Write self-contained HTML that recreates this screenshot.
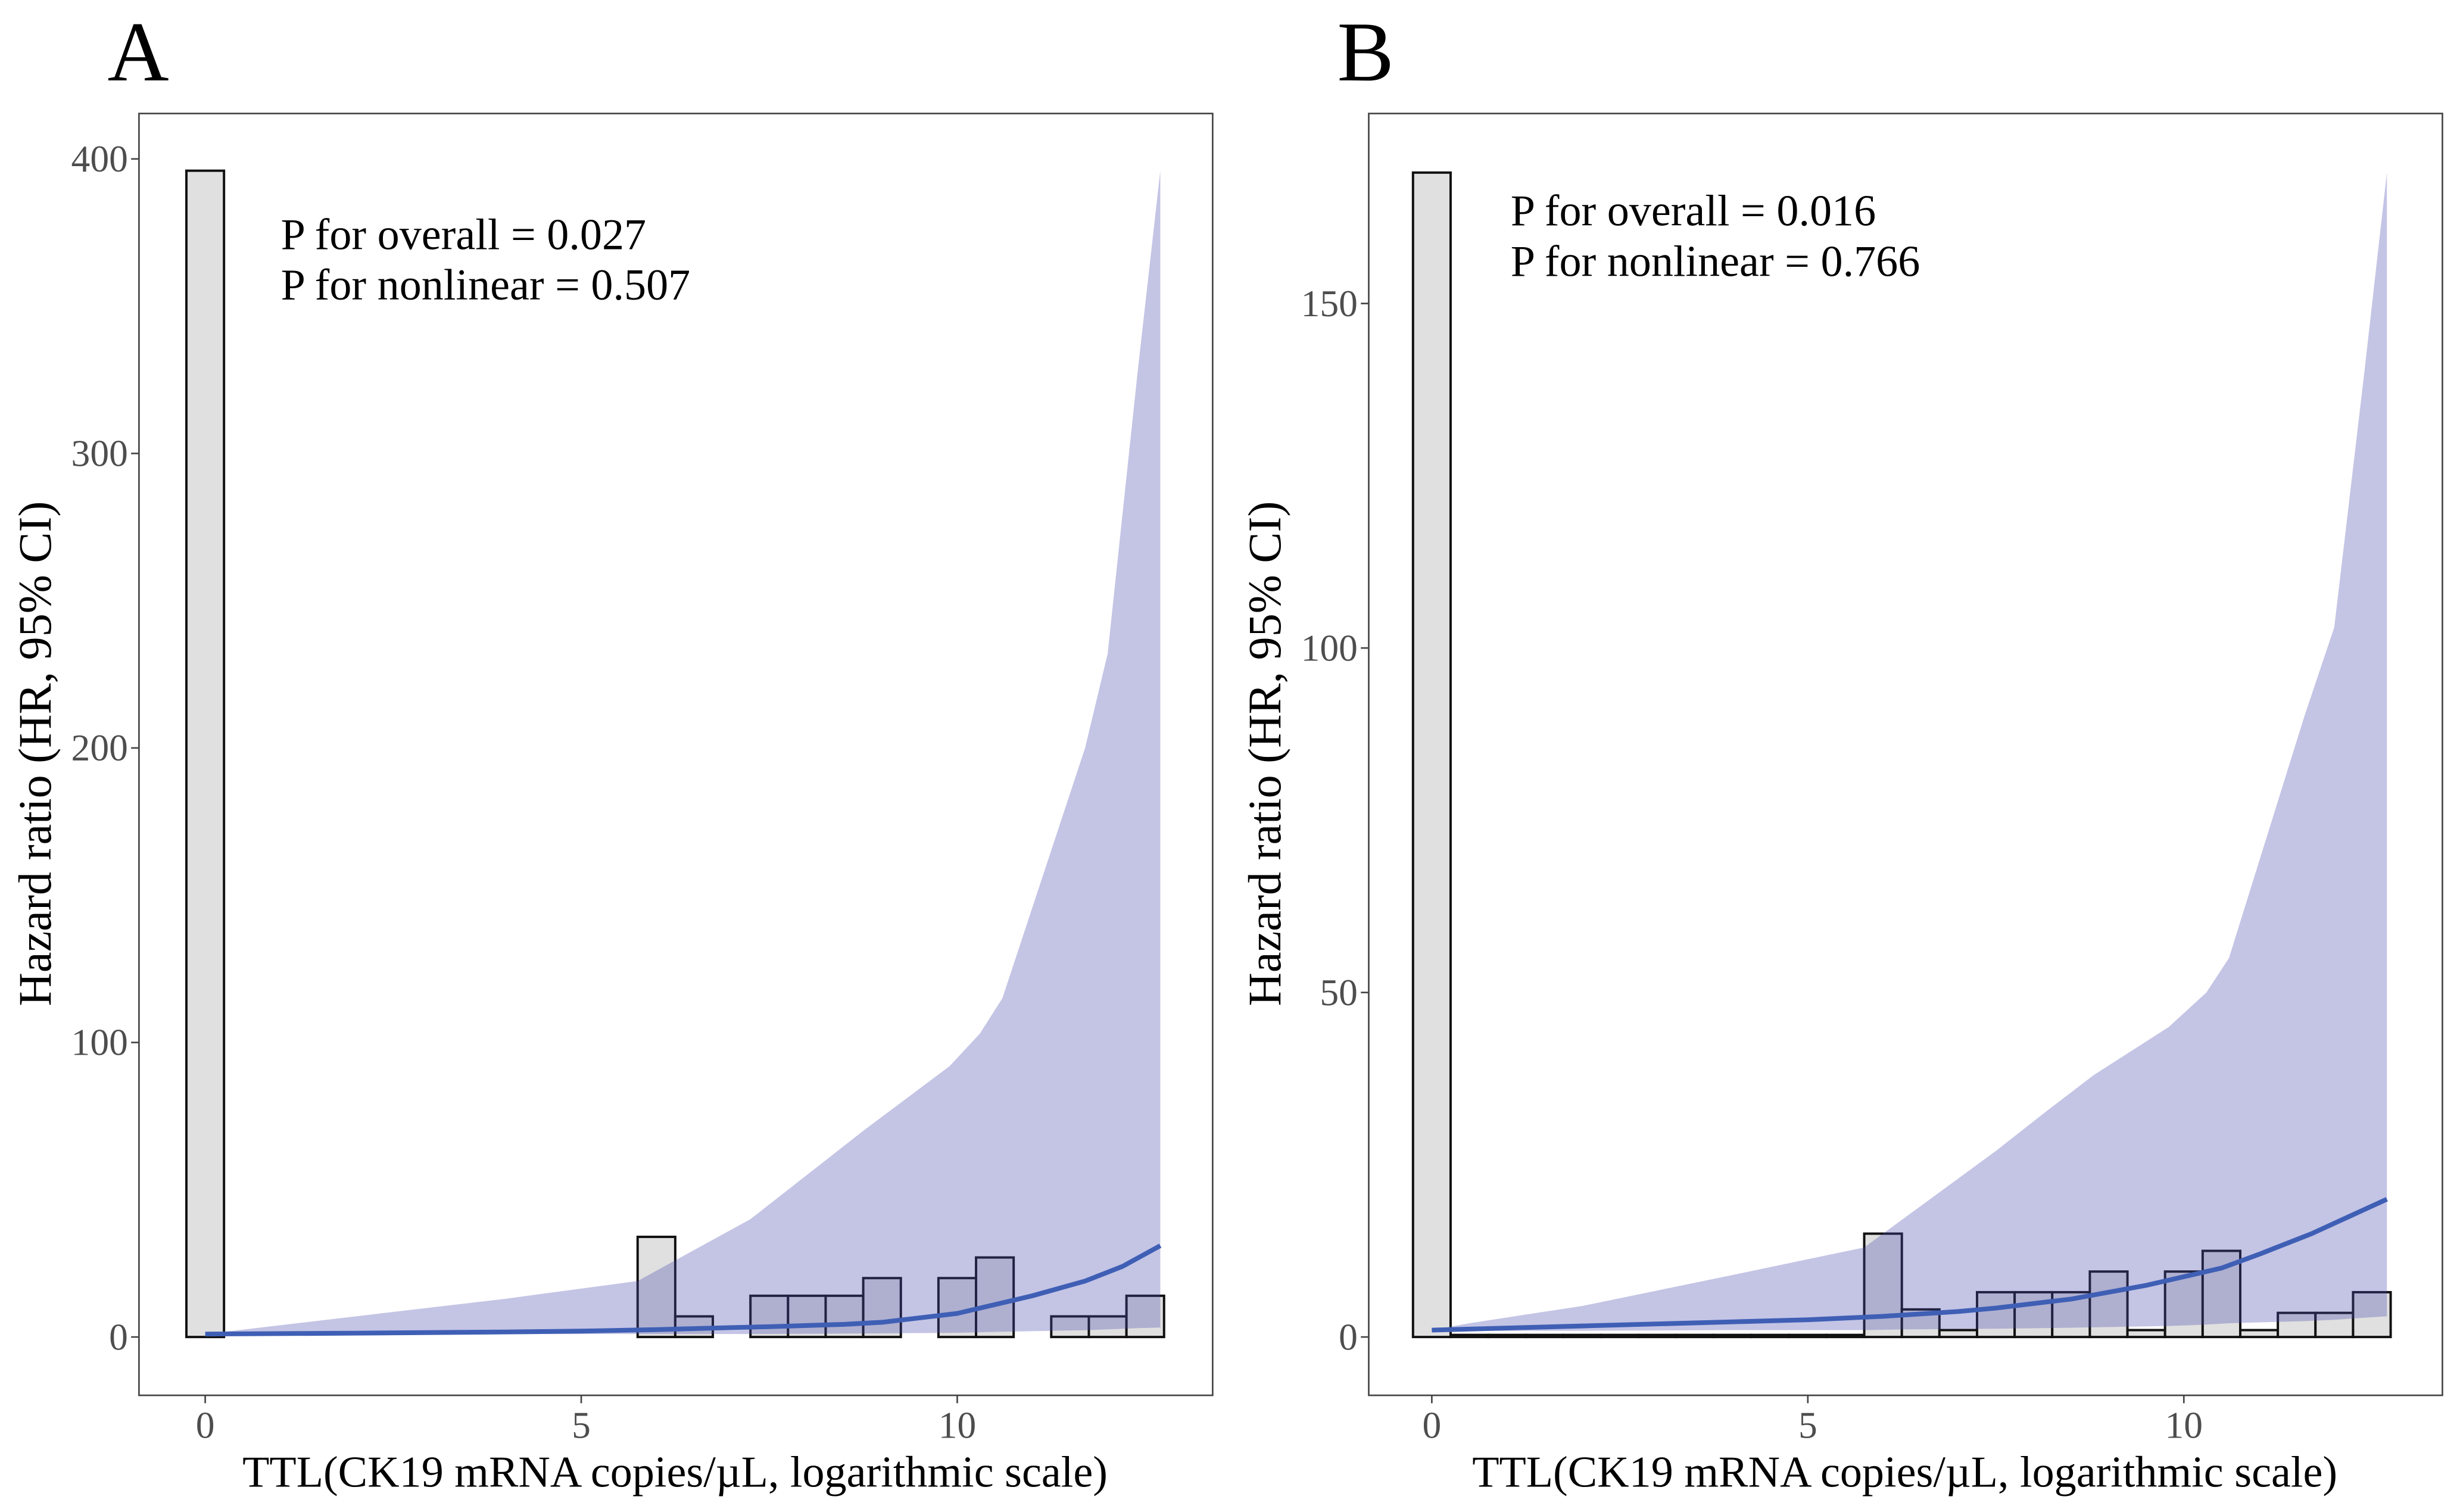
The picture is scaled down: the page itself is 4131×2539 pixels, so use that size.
<!DOCTYPE html>
<html><head><meta charset="utf-8"><style>
html,body{margin:0;padding:0;background:#fff}
svg{display:block}
text{font-family:"Liberation Serif",serif}
</style></head><body>
<svg id="chart" width="4131" height="2539" viewBox="0 0 1560 959" xmlns="http://www.w3.org/2000/svg">
<rect x="0" y="0" width="1560" height="959" fill="#fff"/>
</svg>
<script>
const NS="http://www.w3.org/2000/svg";
// Panel A data
const binEdgesStart=[-0.25,0.25,0.75,1.25,1.75,2.25,2.75,3.25,3.75,4.25,4.75,5.25,5.75,6.25,6.75,7.25,7.75,8.25,8.75,9.25,9.75,10.25,10.75,11.25,11.75,12.25];
const countsA=[396,0,0,0,0,0,0,0,0,0,0,0,34,7,0,14,14,14,20,0,20,27,0,7,7,14];
const ribbonXA=[0,0.5,2,4,5.75,6.25,7.25,8.75,9.9,10.3,10.6,11.7,12.0,12.4,12.7];
const ribbonUpA=[1,2.5,7,13,19,26,40,70,92,103,115,200,232,328,396];
const ribbonLoA=[1,0.9,0.9,1,1,1,1,1.2,1.4,1.6,1.8,2.3,2.6,3,3.2];
const lineXA=[0,2,4,5,6,7,7.5,8.5,9,10,10.5,11,11.7,12.2,12.7];
const lineYA=[1,1.3,1.7,2,2.5,3.2,3.5,4.3,5,8,11,14,19,24,31];
const yTicksA=[0,100,200,300,400];
// Panel B data
const countsB=[169,0.3,0.3,0.3,0.3,0.3,0.3,0.3,0.3,0.3,0.3,0.3,15,4,1,6.5,6.5,6.5,9.5,1,9.5,12.5,1,3.5,3.5,6.5];
const ribbonXB=[0,0.5,2,4,5.75,6.25,7.5,8.2,8.8,9.8,10.3,10.6,11.6,12.0,12.4,12.7];
const ribbonUpB=[1,2,4.5,9,13,17,27,33,38,45,50,55,90,103,140,169];
const ribbonLoB=[1,0.9,0.9,1,1,1.1,1.2,1.3,1.4,1.6,1.8,2,2.3,2.5,2.8,3];
const lineXB=[0,2,4,5,6,7,7.5,8.5,9.5,10.5,11,11.7,12.2,12.7];
const lineYB=[1,1.6,2.2,2.5,3,3.7,4.2,5.5,7.5,10,12,15,17.5,20];
const yTicksB=[0,50,100,150];
const xTicks=[0,5,10];

const svg=document.getElementById('chart');
function mk(tag,attrs,parent){const e=document.createElementNS(NS,tag);for(const k in attrs)e.setAttribute(k,attrs[k]);(parent||svg).appendChild(e);return e;}

function panel(opt){
  const g=mk('g',{});
  
  
  const x0=opt.x0, xs=47.7, y0=848, ys=opt.ys;
  const X=v=>x0+v*xs, Y=v=>y0-v*ys;
  const bw=0.5;
  binEdgesStart.forEach((b,i)=>{
    const h=opt.counts[i];
    const r=mk('rect',{x:X(b),y:Y(h),width:bw*xs,height:Math.max(0,Y(0)-Y(h)),fill:'#e0e0e0',stroke:'#111','stroke-width':1.5},g);
    
    
  });
  let d='';
  opt.rx.forEach((v,i)=>{d+=(i?'L':'M')+X(v)+','+Y(opt.ru[i]);});
  for(let i=opt.rx.length-1;i>=0;i--)d+='L'+X(opt.rx[i])+','+Y(opt.rl[i]);
  d+='Z';
  const rb=mk('path',{d:d,fill:'rgb(70,70,173)','fill-opacity':0.32},g);
  
  
  let ld='';
  opt.lx.forEach((v,i)=>{ld+=(i?'L':'M')+X(v)+','+Y(opt.ly[i]);});
  const ln=mk('path',{d:ld,fill:'none',stroke:'#3f5fb5','stroke-width':3,'stroke-linejoin':'round'},g);
  
  
  const fr=mk('rect',{x:opt.bx,y:72,width:681,height:813,fill:'none',stroke:'#444','stroke-width':1},g);
  
  
  opt.yt.forEach(t=>{
    mk('line',{x1:opt.bx-5,x2:opt.bx,y1:Y(t),y2:Y(t),stroke:'#444','stroke-width':1},g);
    const tx=mk('text',{x:opt.bx-7,y:Y(t)+8,'text-anchor':'end','font-size':24,fill:'#4d4d4d'},g);
    tx.textContent=t;
    
    
  });
  xTicks.forEach(t=>{
    mk('line',{x1:X(t),x2:X(t),y1:885,y2:890,stroke:'#444','stroke-width':1},g);
    const tx=mk('text',{x:X(t),y:912,'text-anchor':'middle','font-size':24,fill:'#4d4d4d'},g);
    tx.textContent=t;
    
    
  });
  const xt=mk('text',{x:opt.bx+340,y:943,'text-anchor':'middle','font-size':28,fill:'#000'},g);
  xt.textContent='TTL(CK19 mRNA copies/\u00B5L, logarithmic scale)';
  
  
  const yt=mk('text',{x:0,y:0,'text-anchor':'middle','font-size':29.5,fill:'#000',transform:'translate('+(opt.bx-56)+',478) rotate(-90)'},g);
  yt.textContent='Hazard ratio (HR, 95% CI)';
  
  
  const p1=mk('text',{x:opt.bx+90,y:opt.py,'font-size':28,fill:'#000'},g);
  p1.textContent=opt.p1;
  
  
  const p2=mk('text',{x:opt.bx+90,y:opt.py+32,'font-size':28,fill:'#000'},g);
  p2.textContent=opt.p2;
  
  
  const lb=mk('text',{x:opt.bx-20,y:51,'font-size':54,fill:'#000'},g);
  lb.textContent=opt.label;
  
  
}
panel({name:'panel-a',x0:130,bx:88,ys:1.868,counts:countsA,rx:ribbonXA,ru:ribbonUpA,rl:ribbonLoA,lx:lineXA,ly:lineYA,yt:yTicksA,py:158,p1:'P for overall = 0.027',p2:'P for nonlinear = 0.507',label:'A'});
panel({name:'panel-b',x0:908,bx:868,ys:4.37,counts:countsB,rx:ribbonXB,ru:ribbonUpB,rl:ribbonLoB,lx:lineXB,ly:lineYB,yt:yTicksB,py:143,p1:'P for overall = 0.016',p2:'P for nonlinear = 0.766',label:'B'});
</script>
</body></html>
